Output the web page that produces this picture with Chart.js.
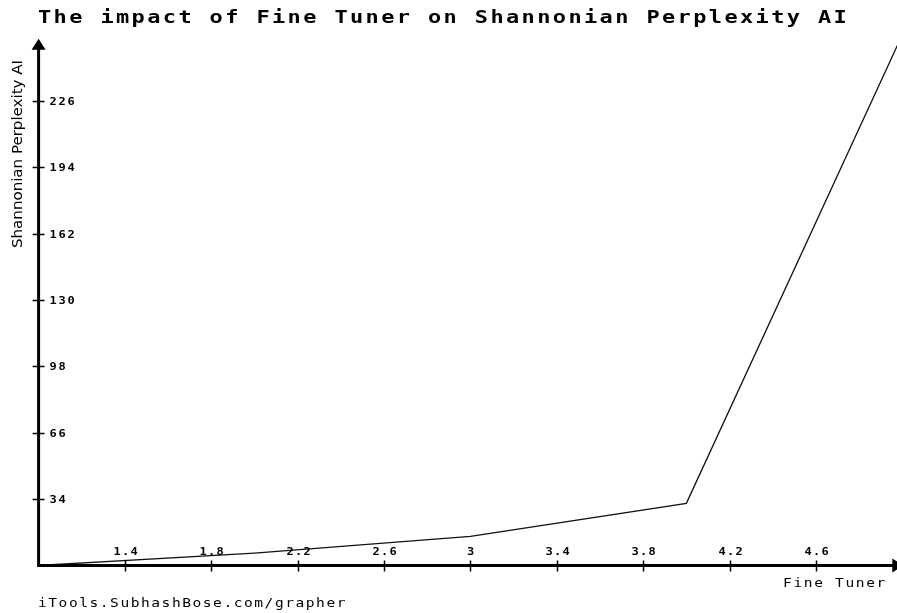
<!DOCTYPE html>
<html>
<head>
<meta charset="utf-8">
<script src="https://cdn.jsdelivr.net/npm/chart.js@4/dist/chart.umd.min.js"></script>
<style>
  html, body { margin: 0; padding: 0; background: #fff; overflow: hidden; }
  #wrap { width: 903px; height: 613px; }
</style>
</head>
<body>
<div id="wrap"><canvas id="chart" width="903" height="613"></canvas></div>
<script>
// data
const fineTuner = [1, 2, 3, 4, 5];
const perplexity = [2, 8, 16, 32, 258];
const xTickValues = [1.4, 1.8, 2.2, 2.6, 3, 3.4, 3.8, 4.2, 4.6];
const yTickValues = [34, 66, 98, 130, 162, 194, 226];

const titleText = 'The impact of Fine Tuner on Shannonian Perplexity AI';
const xTitle = 'Fine Tuner';
const yTitle = 'Shannonian Perplexity AI';
const footer = 'iTools.SubhashBose.com/grapher';

// draw text one char at a time on a fixed pitch, glyphs widened a bit
// (looks closer to the old grapher bitmap font)
function spaced(ctx, str, x, y, pitch, stretch) {
  stretch = stretch || 1;
  for (let i = 0; i < str.length; i++) {
    ctx.save();
    ctx.translate(x + i * pitch, y);
    ctx.scale(stretch, 1);
    ctx.fillText(str[i], 0, 0);
    ctx.restore();
  }
}

const axesPlugin = {
  id: 'grapherAxes',
  afterDraw(chart) {
    const ctx = chart.ctx;
    const xs = chart.scales.x, ys = chart.scales.y;
    const area = chart.chartArea;
    const x0 = area.left, y0 = area.bottom;
    ctx.save();
    ctx.fillStyle = '#000';
    ctx.strokeStyle = '#000';

    // axis lines
    ctx.lineWidth = 3;
    ctx.beginPath();
    ctx.moveTo(x0, y0 + 1.5);
    ctx.lineTo(x0, area.top + 12);
    ctx.moveTo(x0 - 1.5, y0);
    ctx.lineTo(chart.width, y0);
    ctx.stroke();

    // arrow heads
    ctx.beginPath();
    ctx.moveTo(x0, area.top + 4);
    ctx.lineTo(x0 - 7, area.top + 15);
    ctx.lineTo(x0 + 7, area.top + 15);
    ctx.closePath();
    ctx.fill();
    ctx.beginPath();
    ctx.moveTo(area.right + 1, y0);
    ctx.lineTo(area.right - 10, y0 - 7);
    ctx.lineTo(area.right - 10, y0 + 7);
    ctx.closePath();
    ctx.fill();

    // y ticks
    ctx.lineWidth = 1.5;
    ctx.font = 'bold 10px "DejaVu Sans Mono"';
    ctx.textBaseline = 'alphabetic';
    ctx.textAlign = 'left';
    ys.ticks.forEach(t => {
      const py = Math.round(ys.getPixelForValue(t.value)) + 0.5;
      ctx.beginPath();
      ctx.moveTo(x0 - 6, py);
      ctx.lineTo(x0 + 6, py);
      ctx.stroke();
      spaced(ctx, String(t.value), x0 + 11, py + 3.5, 9, 1.2);
    });

    // x ticks
    xs.ticks.forEach(t => {
      const px = Math.round(xs.getPixelForValue(t.value)) + 0.5;
      ctx.beginPath();
      ctx.moveTo(px, y0 - 5);
      ctx.lineTo(px, y0 + 6);
      ctx.stroke();
      const s = String(t.value);
      const w = (s.length - 1) * 8.5 + 7;
      spaced(ctx, s, px - w / 2, y0 - 10.5, 8.5, 1.2);
    });

    // title
    ctx.font = 'bold 18px "DejaVu Sans Mono"';
    spaced(ctx, titleText, 38, 23, 15.6, 1.22);

    // x axis title and footer
    ctx.font = '13px "DejaVu Sans Mono"';
    spaced(ctx, xTitle, 783, 587, 10.4, 1.12);
    spaced(ctx, footer, 38, 607, 10.3, 1.12);

    // rotated y axis title, stretched to the reference length
    ctx.font = '14px "DejaVu Sans Condensed", "Liberation Sans Narrow", "DejaVu Sans"';
    const tw = ctx.measureText(yTitle).width;
    ctx.translate(22, 154);
    ctx.rotate(-Math.PI / 2);
    ctx.scale(188 / tw, 1);
    ctx.textAlign = 'center';
    ctx.fillText(yTitle, 0, 0);
    ctx.restore();
  }
};

new Chart(document.getElementById('chart'), {
  type: 'line',
  data: {
    labels: fineTuner,
    datasets: [{
      data: fineTuner.map((x, i) => ({ x: x, y: perplexity[i] })),
      borderColor: '#111',
      borderWidth: 1.3,
      pointRadius: 0,
      tension: 0,
      fill: false
    }]
  },
  options: {
    responsive: false,
    animation: false,
    devicePixelRatio: 1,
    layout: { padding: { left: 38.6, right: 0.7, top: 34.8, bottom: 47.5 } },
    plugins: { legend: { display: false }, tooltip: { enabled: false }, title: { display: false } },
    scales: {
      x: {
        type: 'linear', min: 1, max: 5, display: false,
        afterBuildTicks: s => { s.ticks = xTickValues.map(v => ({ value: v })); }
      },
      y: {
        type: 'linear', min: 2, max: 258, display: false,
        afterBuildTicks: s => { s.ticks = yTickValues.map(v => ({ value: v })); }
      }
    }
  },
  plugins: [axesPlugin]
});
</script>
</body>
</html>
